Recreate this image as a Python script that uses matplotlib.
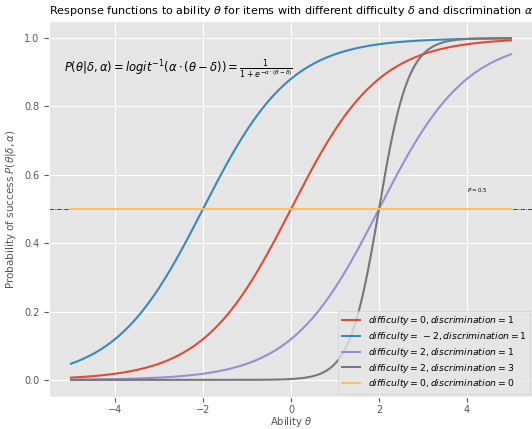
import numpy as np
import matplotlib
matplotlib.use('Agg')
import matplotlib.pyplot as plt

# Item parameters (difficulty delta, discrimination alpha)
difficulty = [0, -2, 2, 2, 0]
discrimination = [1, 1, 1, 3, 0]
theta_range = (-5, 5)

plt.style.use('ggplot')

fig = plt.figure(figsize=(5.32, 4.29), dpi=100)
ax = fig.add_axes([49 / 532, 32 / 429, 484 / 532, 376 / 429])

theta = np.linspace(theta_range[0], theta_range[1], 400)
for d, a in zip(difficulty, discrimination):
    p = 1 / (1 + np.exp(-a * (theta - d)))
    d_str = rf'\,{d}' if d < 0 else str(d)
    ax.plot(theta, p, lw=1.5,
            label=rf'$difficulty={d_str}, discrimination={a}$')

ax.axhline(0.5, color='black', ls='-.', lw=0.5, zorder=1)
ax.text(4, 0.55, r'$P=0.5$', fontsize=4)
ax.text(-5.15, 0.9,
        r'$P(\theta|\delta,\alpha) = logit^{-1}(\alpha\cdot(\theta-\delta)) = \frac{1}{1+e^{-\alpha\cdot(\theta-\delta)}}$',
        fontsize=8.3)

ax.set_xlim(-5.5, 5.5)
ax.set_ylim(-0.05, 1.05)
ax.tick_params(labelsize=7)
ax.tick_params(axis='x', pad=2.5)
ax.set_xlabel(r'Ability $\theta$', fontsize=7.2, labelpad=0)
ax.set_ylabel(r'Probability of success $P(\theta|\delta,\alpha)$', fontsize=7.5)
ax.set_title(r'Response functions to ability $\theta$ for items with different difficulty $\delta$ and discrimination $\alpha$',
             fontsize=8, pad=5)
ax.legend(loc='lower right', fontsize=6.7, labelspacing=0.3, borderaxespad=0.3)

fig.savefig('out.png', dpi=100)
